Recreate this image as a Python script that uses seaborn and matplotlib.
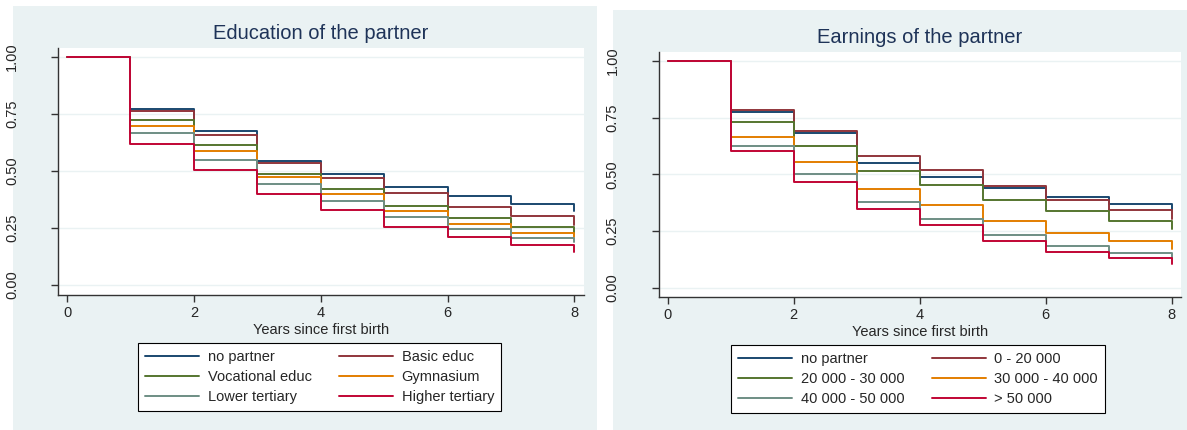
import numpy as np
import pandas as pd
import matplotlib
matplotlib.use("Agg")
import matplotlib.pyplot as plt
from matplotlib.lines import Line2D
from matplotlib.patches import Rectangle
import seaborn as sns

# Kaplan-Meier style survival estimates, one value per year since first birth
years = [0, 1, 2, 3, 4, 5, 6, 7, 8]

edu_groups = ["no partner", "Basic educ", "Vocational educ",
              "Gymnasium", "Lower tertiary", "Higher tertiary"]
edu_no_partner = [1.0, 0.773, 0.677, 0.542, 0.485, 0.431, 0.392, 0.357, 0.326]
edu_basic = [1.0, 0.762, 0.659, 0.534, 0.471, 0.404, 0.342, 0.301, 0.263]
edu_vocational = [1.0, 0.724, 0.614, 0.488, 0.421, 0.348, 0.292, 0.253, 0.220]
edu_gymnasium = [1.0, 0.697, 0.586, 0.474, 0.399, 0.323, 0.269, 0.229, 0.210]
edu_lower_tertiary = [1.0, 0.665, 0.547, 0.442, 0.367, 0.297, 0.244, 0.206, 0.190]
edu_higher_tertiary = [1.0, 0.620, 0.503, 0.400, 0.329, 0.254, 0.209, 0.174, 0.143]

earn_groups = ["no partner", "0 - 20 000", "20 000 - 30 000",
               "30 000 - 40 000", "40 000 - 50 000", "> 50 000"]
earn_no_partner = [1.0, 0.776, 0.684, 0.550, 0.490, 0.441, 0.401, 0.371, 0.343]
earn_0_20 = [1.0, 0.782, 0.691, 0.582, 0.519, 0.450, 0.387, 0.343, 0.303]
earn_20_30 = [1.0, 0.730, 0.626, 0.513, 0.453, 0.386, 0.337, 0.296, 0.260]
earn_30_40 = [1.0, 0.666, 0.553, 0.435, 0.363, 0.296, 0.240, 0.206, 0.172]
earn_40_50 = [1.0, 0.625, 0.500, 0.378, 0.304, 0.231, 0.185, 0.154, 0.130]
earn_50_plus = [1.0, 0.603, 0.466, 0.346, 0.277, 0.207, 0.159, 0.131, 0.105]

x_ticks = [0, 2, 4, 6, 8]
y_ticks = [0.0, 0.25, 0.5, 0.75, 1.0]
y_ticklabels = ["0.00", "0.25", "0.50", "0.75", "1.00"]

# Stata s2color-like series colours
series_colors = ["#1A476F", "#90353B", "#55752F", "#E37E00", "#6E8E84", "#C10534"]
region_bg = "#EAF2F3"
title_color = "#1E3358"


def long_frame(groups, series):
    rows = []
    for g, vals in zip(groups, series):
        for t, v in zip(years, vals):
            rows.append({"time": t, "survival": v, "group": g})
    return pd.DataFrame(rows)


edu_df = long_frame(edu_groups, [edu_no_partner, edu_basic, edu_vocational,
                                 edu_gymnasium, edu_lower_tertiary, edu_higher_tertiary])
earn_df = long_frame(earn_groups, [earn_no_partner, earn_0_20, earn_20_30,
                                   earn_30_40, earn_40_50, earn_50_plus])

sns.set_style("white")
plt.rcParams["font.family"] = ["Liberation Sans", "DejaVu Sans"]

W, H = 1187, 430
fig = plt.figure(figsize=(W / 100, H / 100), dpi=100)
fig.patch.set_facecolor("white")


def px_rect(x0, y0, x1, y1):
    """Figure-fraction rectangle from pixel corners (origin top-left)."""
    return [x0 / W, 1 - y1 / H, (x1 - x0) / W, (y1 - y0) / H]


# graph-region backgrounds
for x0, y0, x1, y1 in [(13, 6, 597, H), (613, 10, W, H)]:
    l, b, w, h = px_rect(x0, y0, x1, y1)
    fig.patches.append(Rectangle((l, b), w, h, transform=fig.transFigure,
                                 facecolor=region_bg, edgecolor="none", zorder=-10))

panels = [
    dict(df=edu_df, groups=edu_groups, title="Education of the partner",
         rect=(58, 47.7, 584, 295), ylim=(-0.044, 1.041), xlim=(-0.142, 8.15),
         legend_xy=(138, 343)),
    dict(df=earn_df, groups=earn_groups, title="Earnings of the partner",
         rect=(658.7, 51.7, 1181, 296.7), ylim=(-0.040, 1.041), xlim=(-0.143, 8.148),
         legend_xy=(731, 345)),
]

for p in panels:
    ax = fig.add_axes(px_rect(*p["rect"]))
    ax.set_zorder(1)
    ax.set_facecolor("white")
    for yt in y_ticks:
        ax.axhline(yt, color=region_bg, lw=1.0, zorder=0.5)
    sns.lineplot(data=p["df"], x="time", y="survival", hue="group",
                 hue_order=p["groups"], palette=series_colors,
                 drawstyle="steps-post", linewidth=1.4, estimator=None,
                 errorbar=None, legend=False, ax=ax)
    ax.set_xlim(*p["xlim"])
    ax.set_ylim(*p["ylim"])
    ax.set_xticks(x_ticks)
    ax.set_xticklabels([str(t) for t in x_ticks], fontsize=10.5)
    ax.set_yticks(y_ticks)
    ax.set_yticklabels(y_ticklabels, fontsize=10.5, rotation=90, va="center")
    ax.tick_params(axis="x", direction="out", length=5, width=1, color="#333333",
                   pad=3, bottom=True)
    ax.tick_params(axis="y", direction="out", length=5, width=1, color="#333333",
                   pad=23, left=True)
    for s in ["top", "right"]:
        ax.spines[s].set_visible(False)
    for s in ["left", "bottom"]:
        ax.spines[s].set_color("#333333")
        ax.spines[s].set_linewidth(1.0)
    ax.set_xlabel("Years since first birth", fontsize=10.5, labelpad=2)
    ax.set_ylabel("")
    ax.set_title(p["title"], fontsize=14.5, color=title_color, pad=6)

    # legend: 2 columns, filled row by row
    handles = [Line2D([], [], color=c, lw=1.4) for c in series_colors]
    order = [0, 2, 4, 1, 3, 5]
    lx, ly = p["legend_xy"]
    leg = ax.legend([handles[i] for i in order], [p["groups"][i] for i in order],
                    ncol=2, loc="upper left",
                    bbox_to_anchor=(lx / W, 1 - ly / H), bbox_transform=fig.transFigure,
                    fontsize=10.5, frameon=True, fancybox=False, framealpha=1,
                    edgecolor="black", handlelength=3.7, handletextpad=0.6,
                    columnspacing=1.85, labelspacing=0.4, borderpad=0.5,
                    borderaxespad=0)
    leg.get_frame().set_linewidth(0.8)

fig.savefig("out.png", dpi=100, facecolor="white")
